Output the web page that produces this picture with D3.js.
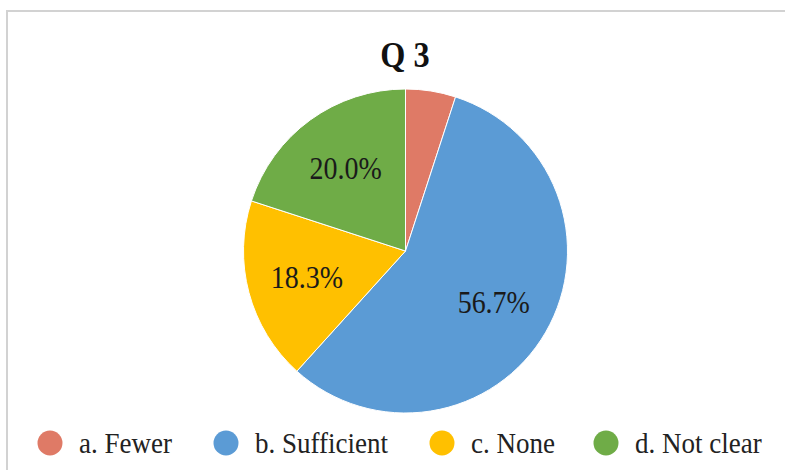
<!DOCTYPE html>
<html>
<head>
<meta charset="utf-8">
<script src="https://cdn.jsdelivr.net/npm/d3@7"></script>
<style>
  html, body { margin: 0; padding: 0; background: #fff; }
  svg { display: block; }
</style>
</head>
<body>
<svg id="chart" width="785" height="470"></svg>
<script>
const title = "Q 3";
const categories = ["a. Fewer", "b. Sufficient", "c. None", "d. Not clear"];
const values = [5.0, 56.7, 18.3, 20.0];
const showLabel = [false, true, true, true];
const colors = ["#DF7A66", "#5B9BD5", "#FFC000", "#6FAC47"];

const W = 785, H = 470;
const svg = d3.select("#chart");
const serif = "'Liberation Serif', 'Times New Roman', serif";

// frame (top & left visible)
svg.append("path")
  .attr("d", `M7,${H + 5} L7,11 L${W + 5},11`)
  .attr("fill", "none").attr("stroke", "#d2d2d2").attr("stroke-width", 2);

svg.append("text")
  .attr("transform", "translate(405,67) scale(0.95,1.08)")
  .attr("text-anchor", "middle")
  .attr("font-family", serif).attr("font-weight", "bold").attr("font-size", 34)
  .attr("fill", "#111").text(title);

const cx = 405.5, cy = 251, R = 162;
const data = categories.map((c, i) => ({ cat: c, value: values[i], color: colors[i], label: showLabel[i] }));
const pie = d3.pie().value(d => d.value).sort(null);
const arc = d3.arc().innerRadius(0).outerRadius(R);
const labelArc = d3.arc().innerRadius(102).outerRadius(102);

const g = svg.append("g").attr("transform", `translate(${cx},${cy})`);
const arcs = pie(data);
g.selectAll("path.slice").data(arcs).join("path")
  .attr("class", "slice")
  .attr("d", arc)
  .attr("fill", d => d.data.color)
  .attr("stroke", "#fff").attr("stroke-width", 1);

g.selectAll("text.lbl").data(arcs.filter(d => d.data.label)).join("text")
  .attr("class", "lbl")
  .attr("transform", d => `translate(${labelArc.centroid(d)}) scale(1,1.1)`)
  .attr("text-anchor", "middle")
  .attr("dy", "0.35em")
  .attr("font-family", serif).attr("font-size", 28)
  .attr("fill", "#1a1a1a")
  .text(d => d3.format(".1f")(d.data.value) + "%");

// legend
const dotX = [50, 226, 442, 606];
const legend = svg.append("g");
const items = legend.selectAll("g").data(data).join("g")
  .attr("transform", (d, i) => `translate(${dotX[i]},443)`);
items.append("circle").attr("r", 12.5).attr("fill", d => d.color);
items.append("text")
  .attr("transform", "translate(29,0) scale(1,1.08)")
  .attr("dy", "0.35em")
  .attr("font-family", serif).attr("font-size", 27)
  .attr("fill", "#222")
  .text(d => d.cat);
</script>
</body>
</html>
